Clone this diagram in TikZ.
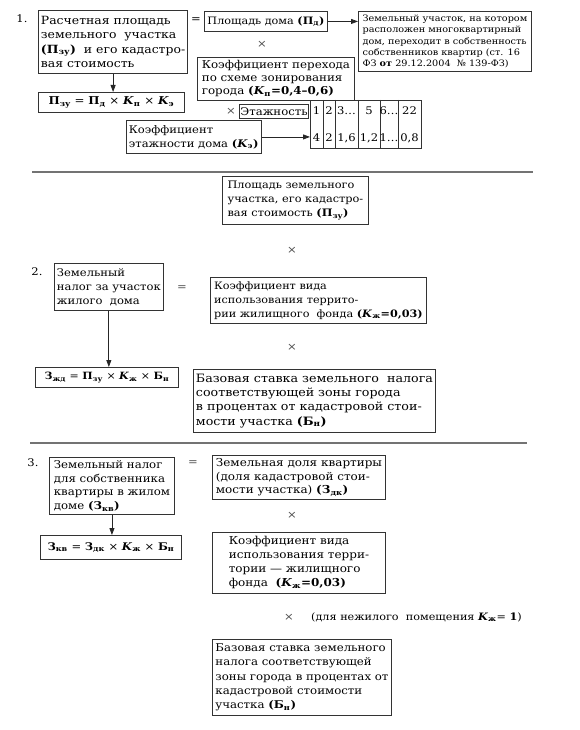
\documentclass[tikz,border=0pt]{standalone}
\usepackage{fontspec}
\setmainfont{DejaVu Serif}[FakeStretch=1.1]
\usetikzlibrary{arrows.meta}
\newcommand\Kb[1]{\textbf{\textit{K}\textsubscript{#1}}}
\newcommand\Bb[2]{\textbf{#1\textsubscript{#2}}}
\newcommand\fs[2]{\fontsize{#1}{#2}\selectfont}
\newcommand\bx[7][]{%
  \pgfmathsetmacro\bw{#5-#3}\pgfmathsetmacro\bh{#6-#4}%
  \node[bx,#1,minimum width=\bw pt,minimum height=\bh pt] (#2) at (#3,#4) {#7};}
\tikzset{
  bx/.style={draw=black!80, line width=0.9pt, anchor=north west, align=left,
    inner xsep=2.5pt, inner ysep=1pt, font=\fs{10.5}{13.5}},
  lbl/.style={inner sep=0pt, font=\fs{10.5}{12}},
  mul/.style={inner sep=0pt, font=\fs{10.5}{12}, text=black!70},
  arr/.style={-{Triangle[length=7pt,width=5pt]}, line width=0.8pt, black!85},
  sep/.style={line width=1.6pt, black!55},
  cell/.style={inner sep=0pt, font=\fs{10.5}{12}}
}
\begin{document}
\begin{tikzpicture}[x=1pt,y=-1pt]
\useasboundingbox[fill=white] (0,0) rectangle (579,730);

% ---------- Section 1 ----------
\node[lbl] (n1) at (22,19) {1.};
\bx[font=\fs{11.3}{14.5}]{B1}{38}{10}{185}{73}{Расчетная площадь\\земельного\ \ участка\\\textbf{(П\textsubscript{зу})}\ \ и его кадастро-\\вая стоимость}
\bx[font=\fs{10.8}{12}]{F1}{38}{92}{184}{112}{\Bb{П}{зу} = \Bb{П}{д} × \Kb{п} × \Kb{э}}
\node[lbl] (eq1) at (196,20) {=};
\bx[font=\fs{10.2}{12}]{PD}{204}{11}{327}{31}{Площадь дома \textbf{(П\textsubscript{д})}}
\bx[font=\fs{8.8}{11.2}, inner xsep=2pt]{ZU}{358}{11}{531}{71}{Земельный участок, на котором\\расположен многоквартирный\\дом, переходит в собственность\\собственников квартир (ст. 16\\ФЗ \textbf{от} 29.12.2004\ \ № 139-ФЗ)}
\node[mul] (m1) at (262,44) {×};
\bx[font=\fs{10.8}{13}]{KP}{197}{57}{354}{100}{Коэффициент перехода\\по схеме зонирования\\города \textbf{(\textit{K}\textsubscript{п}=0,4–0,6)}}
\node[mul] (m2) at (231,111) {×};
\bx[inner xsep=1pt, font=\fs{10.6}{11}]{ET}{239}{104}{307}{118}{Этажность}
\bx[font=\fs{10.5}{14}]{KE}{126}{120}{257}{153}{Коэффициент\\этажности дома \textbf{(\textit{K}\textsubscript{э})}}
% table
\bx{TB}{310}{100}{421}{148}{}
\foreach \cx in {323,335,358,380,398}{
  \draw[line width=0.9pt, black!80] (\cx,100) -- (\cx,148);
}
\foreach \cx/\ta/\tb/\nm in {316.5/1/4/a, 329/2/2/b, 346.5/3…/{1,6}/c, 369/5/{1,2}/d, 389/6…/1…/e, 409.5/22/{0,8}/f}{
  \node[cell] (t1\nm) at (\cx,111) {\ta};
  \node[cell] (t2\nm) at (\cx,138) {\tb};
}
\draw[arr] (PD.east) -- (PD.east -| ZU.west);
\draw[arr] (B1.south) -- (B1.south |- F1.north);
\draw[arr] (KE.east) -- (KE.east -| TB.west);

\coordinate (s1a) at (32,172); \coordinate (s1b) at (533,172);
\draw[sep] (s1a) -- (s1b);

% ---------- Section 2 ----------
\bx[font=\fs{10.3}{14}]{PZU}{222}{176}{368}{224}{Площадь земельного\\участка, его кадастро-\\вая стоимость \textbf{(П\textsubscript{зу})}}
\node[mul] (m3) at (292,250) {×};
\node[lbl] (n2) at (37,272) {2.};
\bx[font=\fs{10.5}{14}]{ZN}{54}{263}{162}{310}{Земельный\\налог за участок\\жилого\ \ дома}
\node[mul] (eq2) at (182,288) {=};
\bx[font=\fs{10.2}{14}]{KV2}{210}{277}{426}{323}{Коэффициент вида\\использования террито-\\рии жилищного\ \ фонда \textbf{(\textit{K}\textsubscript{ж}=0,03)}}
\node[mul] (m4) at (292,347) {×};
\bx[font=\fs{10}{12}]{F2}{35}{367}{178}{387}{\Bb{З}{жд} = \Bb{П}{зу} × \Kb{ж} × \Bb{Б}{н}}
\bx[font=\fs{11.5}{14.2}]{BS2}{193}{369}{416}{432}{Базовая ставка земельного\ \ налога\\соответствующей зоны города\\в процентах от кадастровой стои-\\мости участка \textbf{(Б\textsubscript{н})}}
\draw[arr] (ZN.south) -- (ZN.south |- F2.north);

\coordinate (s2a) at (30,443); \coordinate (s2b) at (527,443);
\draw[sep] (s2a) -- (s2b);

% ---------- Section 3 ----------
\node[lbl] (n3) at (33,463) {3.};
\bx[font=\fs{10.7}{13.5}]{B3}{49}{457}{174}{514}{Земельный налог\\для собственника\\квартиры в жилом\\доме \textbf{(З\textsubscript{кв})}}
\node[mul] (eq3) at (193,463) {=};
\bx[font=\fs{10.9}{13.5}]{ZDK}{212}{455}{385}{499}{Земельная доля квартиры\\(доля кадастровой стои-\\мости участка) \textbf{(З\textsubscript{дк})}}
\node[mul] (m5) at (292,515) {×};
\bx[font=\fs{10.5}{12}]{F3}{40}{535}{181}{559}{\Bb{З}{кв} = \Bb{З}{дк} × \Kb{ж} × \Bb{Б}{н}}
\bx[font=\fs{10.9}{14}]{KV3}{212}{532}{385}{593}{Коэффициент вида\\использования терри-\\тории — жилищного\\фонда\ \ \textbf{(\textit{K}\textsubscript{ж}=0,03)}}
\draw[arr] (B3.south) -- (B3.south |- F3.north);
\node[mul] (m6) at (289,617) {×};
\node[lbl, anchor=west, font=\fs{10.2}{12}] (note) at (311,617) {(для нежилого\ \ помещения \Kb{ж}= \textbf{1})};
\bx[font=\fs{10.7}{14.2}]{BS3}{212}{639}{391}{715}{Базовая ставка земельного\\налога соответствующей\\зоны города в процентах от\\кадастровой стоимости\\участка \textbf{(Б\textsubscript{н})}}
\end{tikzpicture}
\end{document}
